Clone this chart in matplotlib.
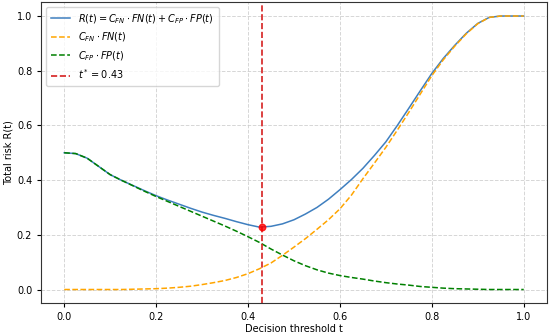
import matplotlib
matplotlib.use("Agg")
import matplotlib.pyplot as plt

# Decision thresholds
t = [0.0, 0.025, 0.05, 0.075, 0.1, 0.125, 0.15, 0.175, 0.2, 0.225, 0.25, 0.275, 0.3, 0.325,
     0.35, 0.375, 0.4, 0.425, 0.45, 0.475, 0.5, 0.525, 0.55, 0.575, 0.6, 0.625, 0.65, 0.675,
     0.7, 0.725, 0.75, 0.775, 0.8, 0.825, 0.85, 0.875, 0.9, 0.925, 0.95, 0.975, 1.0]
# C_FN * FN(t)
fn_cost = [0.0, 0.0, 0.0, 0.0, 0.0, 0.0, 0.001, 0.002, 0.003, 0.005, 0.008, 0.012, 0.018, 0.025,
           0.033, 0.044, 0.058, 0.076, 0.097, 0.125, 0.155, 0.186, 0.22, 0.255, 0.295, 0.345, 0.405, 0.462,
           0.52, 0.583, 0.648, 0.715, 0.782, 0.84, 0.89, 0.935, 0.972, 0.995, 1.0, 1.0, 1.0]
# C_FP * FP(t)
fp_cost = [0.50, 0.497, 0.480, 0.450, 0.42, 0.399, 0.379, 0.359, 0.34, 0.322, 0.304, 0.286, 0.268, 0.25,
           0.232, 0.213, 0.193, 0.172, 0.148, 0.126, 0.105, 0.087, 0.072, 0.06, 0.051, 0.044, 0.038, 0.031,
           0.025, 0.02, 0.016, 0.011, 0.008, 0.005, 0.003, 0.002, 0.001, 0.0, 0.0, 0.0, 0.0]
# Total risk R(t)
risk = [0.50, 0.497, 0.480, 0.450, 0.42, 0.399, 0.38, 0.361, 0.343, 0.327, 0.312, 0.297, 0.283, 0.271,
        0.26, 0.248, 0.237, 0.228, 0.231, 0.24, 0.255, 0.276, 0.30, 0.33, 0.365, 0.402, 0.443, 0.49,
        0.54, 0.60, 0.663, 0.727, 0.79, 0.845, 0.893, 0.937, 0.973, 0.995, 1.0, 1.0, 1.0]

t_star = 0.43
r_star = 0.227

fig = plt.figure(figsize=(5.5, 3.35), dpi=100)
ax = fig.add_axes([0.075, 0.095, 0.919, 0.898])

ax.plot(t, risk, color="#3f7fbf", lw=1.1, label=r"$R(t) = C_{FN}\cdot FN(t) + C_{FP}\cdot FP(t)$")
ax.plot(t, fn_cost, color="orange", lw=1.1, ls="--", label=r"$C_{FN}\cdot FN(t)$")
ax.plot(t, fp_cost, color="green", lw=1.1, ls="--", label=r"$C_{FP}\cdot FP(t)$")
ax.axvline(t_star, color="#d62020", lw=1.2, ls="--", label=r"$t^* = 0.43$")
ax.scatter([t_star], [r_star], color="red", s=22, zorder=5, alpha=0.8)

ax.set_xlim(-0.05, 1.05)
ax.set_ylim(-0.05, 1.05)
ax.set_xticks([0.0, 0.2, 0.4, 0.6, 0.8, 1.0])
ax.set_yticks([0.0, 0.2, 0.4, 0.6, 0.8, 1.0])
ax.tick_params(labelsize=7, length=3)
ax.set_xlabel("Decision threshold t", fontsize=7, labelpad=1.5)
ax.set_ylabel("Total risk R(t)", fontsize=7, labelpad=2.5)
ax.grid(True, ls="--", color="#cccccc", lw=0.7, alpha=0.8)
for s in ax.spines.values():
    s.set_color("#333333")
ax.legend(loc="upper left", fontsize=7, framealpha=0.8, borderpad=0.5, handlelength=2.0)

fig.savefig("out.png", dpi=100)
